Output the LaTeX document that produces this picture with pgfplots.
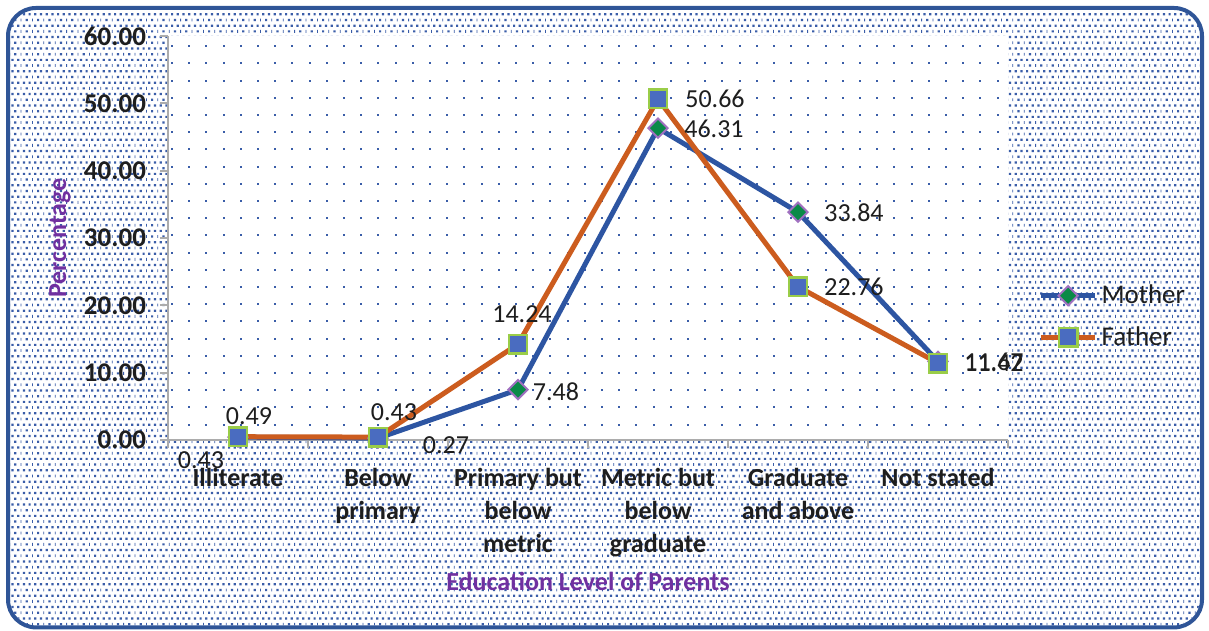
\documentclass[border=0pt]{standalone}
\usepackage{pgfplots}
\pgfplotsset{compat=1.18}
\usepackage{fontspec}
\setmainfont{Carlito}
\usetikzlibrary{patterns}
\definecolor{mblue}{HTML}{2D55A2}
\definecolor{forange}{HTML}{CC5C1E}
\definecolor{mgreen}{HTML}{0A8A48}
\definecolor{mpurple}{HTML}{A070C0}
\definecolor{sqblue}{HTML}{4A6CC0}
\definecolor{sqedge}{HTML}{9ACD48}
\definecolor{ttl}{HTML}{7030A0}
\definecolor{dotc}{HTML}{3A5DA8}
\definecolor{framec}{HTML}{2F5597}
\definecolor{txt}{HTML}{1E1E1E}

\pgfdeclarepatternformonly{densedots}{\pgfqpoint{-1pt}{-1pt}}{\pgfqpoint{6pt}{6pt}}{\pgfqpoint{5.7pt}{5.7pt}}{%
  \pgfpathrectangle{\pgfqpoint{0pt}{0pt}}{\pgfqpoint{1.1pt}{1.1pt}}%
  \pgfpathrectangle{\pgfqpoint{2.85pt}{0pt}}{\pgfqpoint{1.1pt}{1.1pt}}%
  \pgfpathrectangle{\pgfqpoint{1.4pt}{2.85pt}}{\pgfqpoint{1.1pt}{1.1pt}}%
  \pgfpathrectangle{\pgfqpoint{4.6pt}{2.7pt}}{\pgfqpoint{0.4pt}{1.4pt}}%
  \pgfusepath{fill}}
\pgfdeclarepatternformonly{sparsedots}{\pgfqpoint{-1pt}{-1pt}}{\pgfqpoint{1pt}{1pt}}{\pgfqpoint{8.6pt}{8.6pt}}{\pgfpathrectangle{\pgfqpoint{-0.5pt}{-0.5pt}}{\pgfqpoint{1pt}{1pt}}\pgfusepath{fill}}

\tikzset{dl/.style={anchor=center, font=\fontsize{13}{15}\selectfont, text=txt, inner sep=0pt}}

\begin{document}
\begin{tikzpicture}
\useasboundingbox (0,0) rectangle (604.5pt,315.5pt);
\draw[line width=2pt, framec, rounded corners=14pt, fill=white] (4pt,1.8pt) rectangle (601pt,311.5pt);
\fill[pattern=densedots, pattern color=dotc, rounded corners=13pt] (5pt,2.8pt) rectangle (600pt,310.5pt);
\begin{axis}[
  at={(84pt,95.5pt)}, anchor=south west,
  scale only axis, width=420pt, height=202pt,
  clip=false,
  xmin=-0.5, xmax=5.5, ymin=0, ymax=60,
  axis lines=left,
  axis line style={-, draw=gray!65, line width=0.9pt},
  tick align=outside,
  major tick length=4pt,
  tick style={draw=gray!65, line width=0.9pt},
  ytick={0,10,...,60},
  xtick={-0.5,0.5,...,5.5},
  xticklabels={},
  extra x ticks={0,1,2,3,4,5},
  extra x tick labels={Illiterate,{Below\\primary},{Primary but\\below\\metric},{Metric but\\below\\graduate},{Graduate\\and above},{Not stated}},
  extra x tick style={major tick length=0pt, xticklabel style={align=center, font=\bfseries\fontsize{13}{16.5}\selectfont, text=txt, yshift=-10.5pt}},
  y tick label style={/pgf/number format/fixed, /pgf/number format/fixed zerofill, /pgf/number format/precision=2, /pgf/number format/assume math mode=true, font=\bfseries\fontsize{13.5}{15}\selectfont, text=txt, xshift=-3.5pt},
  axis background/.style={fill=white, postaction={pattern=sparsedots, pattern color=dotc}},
  xlabel={Education Level of Parents},
  xlabel style={at={(axis description cs:0.5,-0.349)}, anchor=center, font=\bfseries\fontsize{13}{15}\selectfont, text=ttl},
  ylabel={Percentage},
  ylabel style={at={(axis description cs:-0.1286,0.5)}, anchor=center, font=\bfseries\fontsize{13}{15}\selectfont, text=ttl},
  legend style={at={(axis description cs:1.036,0.395)}, anchor=north west, draw=none, fill=none, font=\fontsize{13.5}{15}\selectfont, text=txt, row sep=6pt, inner sep=0pt},
  legend cell align=left,
  legend image code/.code={\draw[#1, mark repeat=2, mark phase=2] plot coordinates {(0pt,0pt) (13.5pt,0pt) (27pt,0pt)};},
]
\addplot[mblue, line width=2.5pt, mark=square*, mark size=3.4pt, mark options={rotate=45, fill=mgreen, draw=mpurple, line width=1pt}] coordinates {(0,0.43) (1,0.27) (2,7.48) (3,46.31) (4,33.84) (5,11.67)};
\addlegendentry{Mother}
\addplot[forange, line width=2.5pt, mark=square*, mark size=4.6pt, mark options={fill=sqblue, draw=sqedge, line width=1.2pt}] coordinates {(0,0.49) (1,0.43) (2,14.24) (3,50.66) (4,22.76) (5,11.42)};
\addlegendentry{Father}
% Mother labels
\node[dl, xshift=-18.5pt, yshift=-11.5pt] at (axis cs:0,0.43) {0.43};
\node[dl, xshift=34pt, yshift=-3.5pt] at (axis cs:1,0.27) {0.27};
\node[dl, xshift=19pt, yshift=-1pt] at (axis cs:2,7.48) {7.48};
\node[dl, xshift=28pt, yshift=-0.5pt] at (axis cs:3,46.31) {46.31};
\node[dl, xshift=28pt, yshift=-0.5pt] at (axis cs:4,33.84) {33.84};
\node[dl, xshift=28pt, yshift=0pt] at (axis cs:5,11.67) {11.67};
% Father labels
\node[dl, xshift=5.5pt, yshift=10.5pt] at (axis cs:0,0.49) {0.49};
\node[dl, xshift=8pt, yshift=12.5pt] at (axis cs:1,0.43) {0.43};
\node[dl, xshift=2pt, yshift=15pt] at (axis cs:2,14.24) {14.24};
\node[dl, xshift=28.5pt, yshift=0pt] at (axis cs:3,50.66) {50.66};
\node[dl, xshift=28pt, yshift=0pt] at (axis cs:4,22.76) {22.76};
\node[dl, xshift=28pt, yshift=0pt] at (axis cs:5,11.42) {11.42};
\end{axis}
\end{tikzpicture}
\end{document}
